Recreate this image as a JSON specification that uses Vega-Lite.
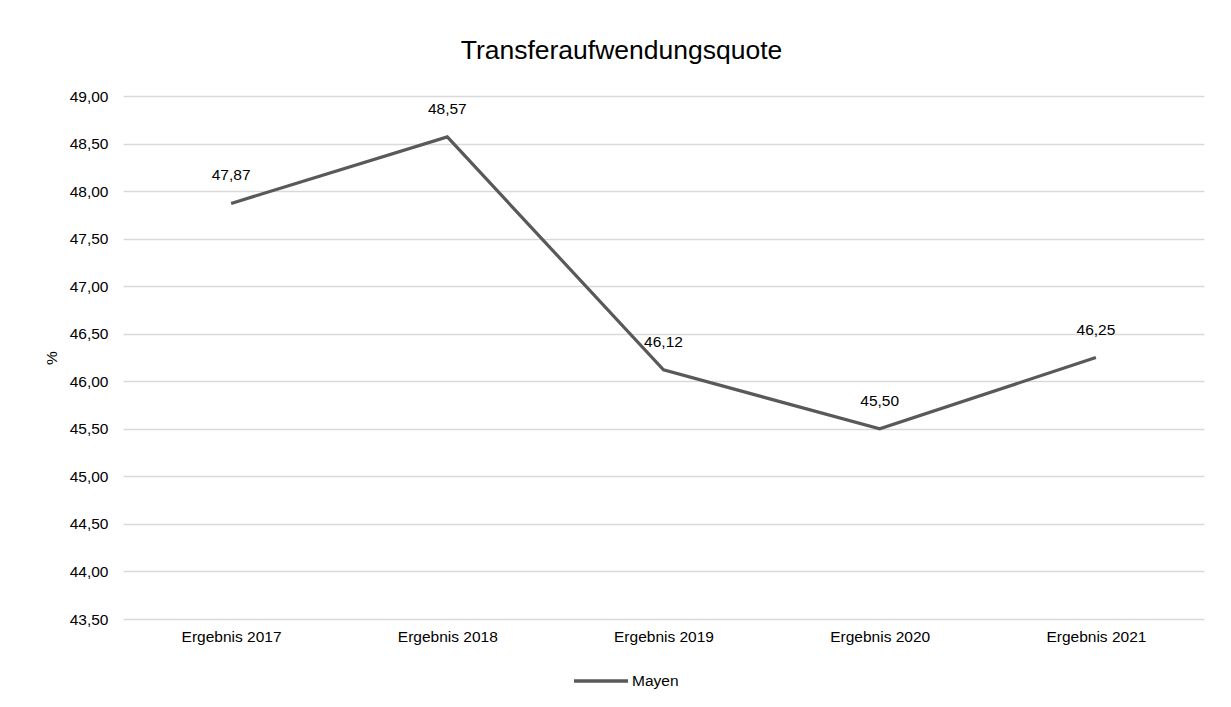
{
  "$schema": "https://vega.github.io/schema/vega-lite/v6.json",
  "width": 1081,
  "height": 523,
  "autosize": "none",
  "padding": {"left": 123, "top": 96, "right": 27, "bottom": 88},
  "background": "white",
  "title": {"text": "Transferaufwendungsquote", "fontSize": 26.5, "font": "Liberation Sans", "fontWeight": "normal", "color": "#000000", "anchor": "middle", "offset": 25, "dx": -42},
  "data": {"values": [
    {"Jahr": "Ergebnis 2017", "Wert": 47.87, "Serie": "Mayen"},
    {"Jahr": "Ergebnis 2018", "Wert": 48.57, "Serie": "Mayen"},
    {"Jahr": "Ergebnis 2019", "Wert": 46.12, "Serie": "Mayen"},
    {"Jahr": "Ergebnis 2020", "Wert": 45.50, "Serie": "Mayen"},
    {"Jahr": "Ergebnis 2021", "Wert": 46.25, "Serie": "Mayen"}
  ]},
  "encoding": {
    "x": {"field": "Jahr", "type": "nominal", "sort": null, "title": null,
      "scale": {"type": "point", "padding": 0.5},
      "axis": {"labelAngle": 0, "ticks": false, "domain": false, "grid": false, "labelFontSize": 15.5, "labelFont": "Liberation Sans", "labelColor": "#000000", "labelPadding": 10}},
    "y": {"field": "Wert", "type": "quantitative", "title": "%",
      "scale": {"domain": [43.5, 49], "nice": false, "zero": false},
      "axis": {"values": [43.5, 44, 44.5, 45, 45.5, 46, 46.5, 47, 47.5, 48, 48.5, 49], "format": ".2f", "ticks": false, "domain": false, "grid": true, "gridColor": "#d9d9d9", "gridWidth": 1.3, "labelFontSize": 15.5, "labelFont": "Liberation Sans", "labelColor": "#000000", "labelPadding": 15, "titleFontSize": 15.5, "titleFont": "Liberation Sans", "titleFontWeight": "normal", "titleColor": "#000000", "titlePadding": 10}}
  },
  "layer": [
    {"mark": {"type": "line", "strokeWidth": 3.2},
     "encoding": {"color": {"field": "Serie", "type": "nominal", "scale": {"range": ["#595959"]},
       "legend": {"title": null, "orient": "none", "legendX": 449, "legendY": 556, "symbolType": "stroke", "symbolStrokeWidth": 3.5, "symbolSize": 2916, "labelFontSize": 15.5, "labelFont": "Liberation Sans", "labelColor": "#000000", "labelOffset": 2}}}},
    {"mark": {"type": "text", "dy": -28, "fontSize": 15.5, "font": "Liberation Sans", "color": "#000000"},
     "encoding": {"text": {"field": "Wert", "type": "quantitative", "format": ".2f"}}}
  ],
  "config": {
    "view": {"stroke": null},
    "locale": {"number": {"decimal": ",", "thousands": ".", "grouping": [3], "currency": ["", " €"]}}
  }
}
